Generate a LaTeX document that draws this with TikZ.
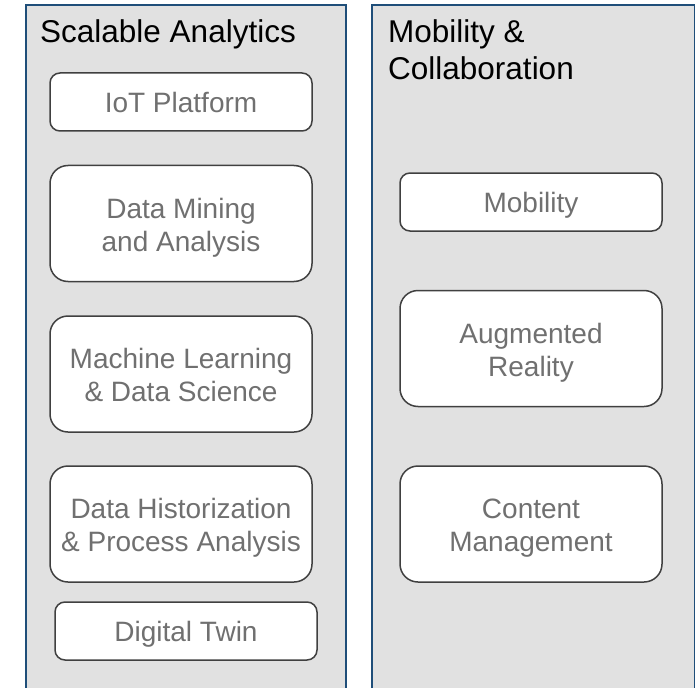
\documentclass[tikz,border=0pt]{standalone}
\usepackage{fontspec}
\setmainfont{Liberation Sans}
\usetikzlibrary{positioning}
\definecolor{panelgray}{RGB}{225,225,225}
\definecolor{panelblue}{RGB}{31,78,121}
\definecolor{boxline}{RGB}{64,64,64}
\definecolor{boxtext}{RGB}{112,112,112}
\tikzset {
  panel/.style = {
    draw = panelblue,
    fill = panelgray,
    line width = 1.6pt
  },
  % column heading
  heading/.style = {
    anchor = base west,
    inner sep = 0,
    align = left,
    font = \fontsize{31.5}{37}\selectfont
  },
  % one-line block
  block/.style = {
    draw = boxline,
    fill = white,
    line width = 1.5pt,
    rounded corners = 10pt,
    minimum width = 262pt,
    minimum height = 58pt,
    inner sep = 0,
    align = center,
    text = boxtext,
    text depth = 0pt,
    font = \fontsize{28}{33}\selectfont
  },
  % two-line block
  tallblock/.style = {
    block,
    minimum height = 116pt,
    rounded corners = 18pt,
    text height = 55pt
  }
}
\begin{document}
\begin{tikzpicture}[x=1pt, y=-1pt]
    \useasboundingbox (0, 0) rectangle (695, 687);
    \path[clip] (0, 0) rectangle (695, 687);

    \node[panel, anchor=north west, minimum width=320pt, minimum height=720pt] at (25, 4) (analytics) {};
    \node[panel, anchor=north west, minimum width=323pt, minimum height=720pt] at (371, 4) (mobility) {};

    \node[heading] at (40, 43) (analytics-title) {Scalable Analytics};
    \node[heading] at (388, 80) (mobility-title) {Mobility \&\\Collaboration};

    \node[block] at (181, 102) (iot) {IoT Platform};
    \node[tallblock] at (181, 223.5) (mining) {Data Mining\\and Analysis};
    \node[tallblock] at (181, 374) (ml) {Machine Learning\\\& Data Science};
    \node[tallblock] at (181, 524) (hist) {Data Historization\\\& Process Analysis};
    \node[block] at (186, 631) (twin) {Digital Twin};

    \node[block] at (531, 202) (mob) {Mobility};
    \node[tallblock] at (531, 348.5) (ar) {Augmented\\Reality};
    \node[tallblock] at (531, 524) (cm) {Content\\Management};
\end{tikzpicture}
\end{document}
